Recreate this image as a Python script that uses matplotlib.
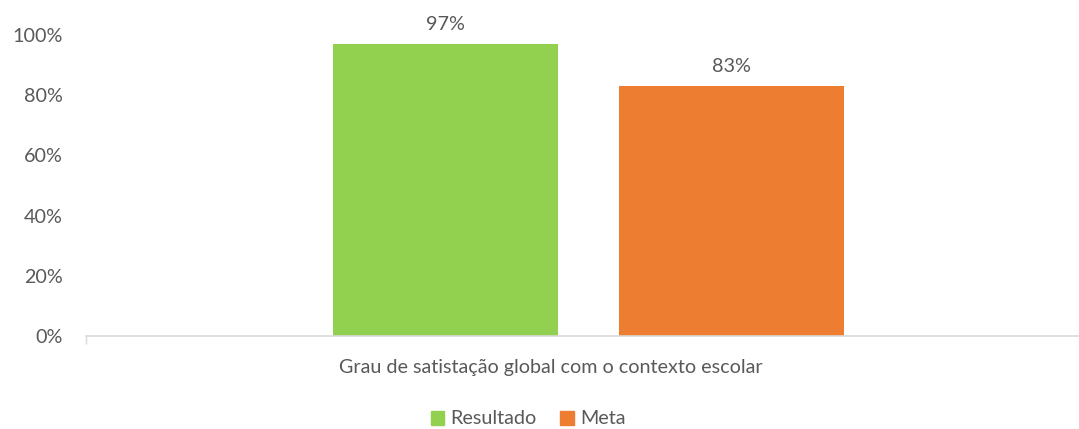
"""Satisfaction vs. target bar chart (Excel-style), saved to out.png."""

import matplotlib

matplotlib.use("Agg")
import matplotlib.pyplot as plt  # noqa: E402
from matplotlib.patches import Patch  # noqa: E402

category = "Grau de satistação global com o contexto escolar"
series_names = ["Resultado", "Meta"]
series_values = [97, 83]
series_colors = ["#92D050", "#ED7D31"]
y_ticks = [0, 20, 40, 60, 80, 100]

TEXT = "#595959"
FS = 14.2
plt.rcParams["font.family"] = ["Lato", "DejaVu Sans"]

W, H = 1079, 429
fig = plt.figure(figsize=(W / 100, H / 100), dpi=100)
ax = fig.add_axes([86 / W, 93 / H, 992 / W, 301 / H])

# bar offsets inside the single category slot (-0.5 .. 0.5)
offsets = [-0.138, 0.151]
bars = ax.bar(offsets, series_values, width=0.227, color=series_colors)
for bar, val in zip(bars, series_values):
    ax.annotate(f"{val}%", (bar.get_x() + bar.get_width() / 2, val),
                xytext=(0, 8), textcoords="offset points",
                ha="center", va="bottom", fontsize=FS, color=TEXT)

ax.set_xlim(-0.5, 0.5)
ax.set_ylim(0, 100)
ax.set_yticks(y_ticks)
ax.set_yticklabels([f"{t}%" for t in y_ticks])
ax.tick_params(axis="y", length=0, pad=17, labelsize=FS, labelcolor=TEXT)
ax.set_xticks([-0.5])
ax.set_xticklabels([""])
ax.tick_params(axis="x", length=6, width=1, color="#D9D9D9")

for side in ("top", "right", "left"):
    ax.spines[side].set_visible(False)
ax.spines["bottom"].set_color("#D9D9D9")
ax.spines["bottom"].set_linewidth(1.2)

ax.text((551 - 86) / 992, -31 / 301, category, transform=ax.transAxes,
        ha="center", va="center", fontsize=FS, color=TEXT)

handles = [Patch(color=c, label=n) for n, c in zip(series_names, series_colors)]
fig.legend(handles=handles, loc="center", bbox_to_anchor=(528 / W, 1 - 419 / H),
           ncol=2, frameon=False, fontsize=FS, labelcolor=TEXT,
           handlelength=0.7, handleheight=0.7, handletextpad=0.3,
           columnspacing=1.2)

fig.savefig("out.png", dpi=100)
